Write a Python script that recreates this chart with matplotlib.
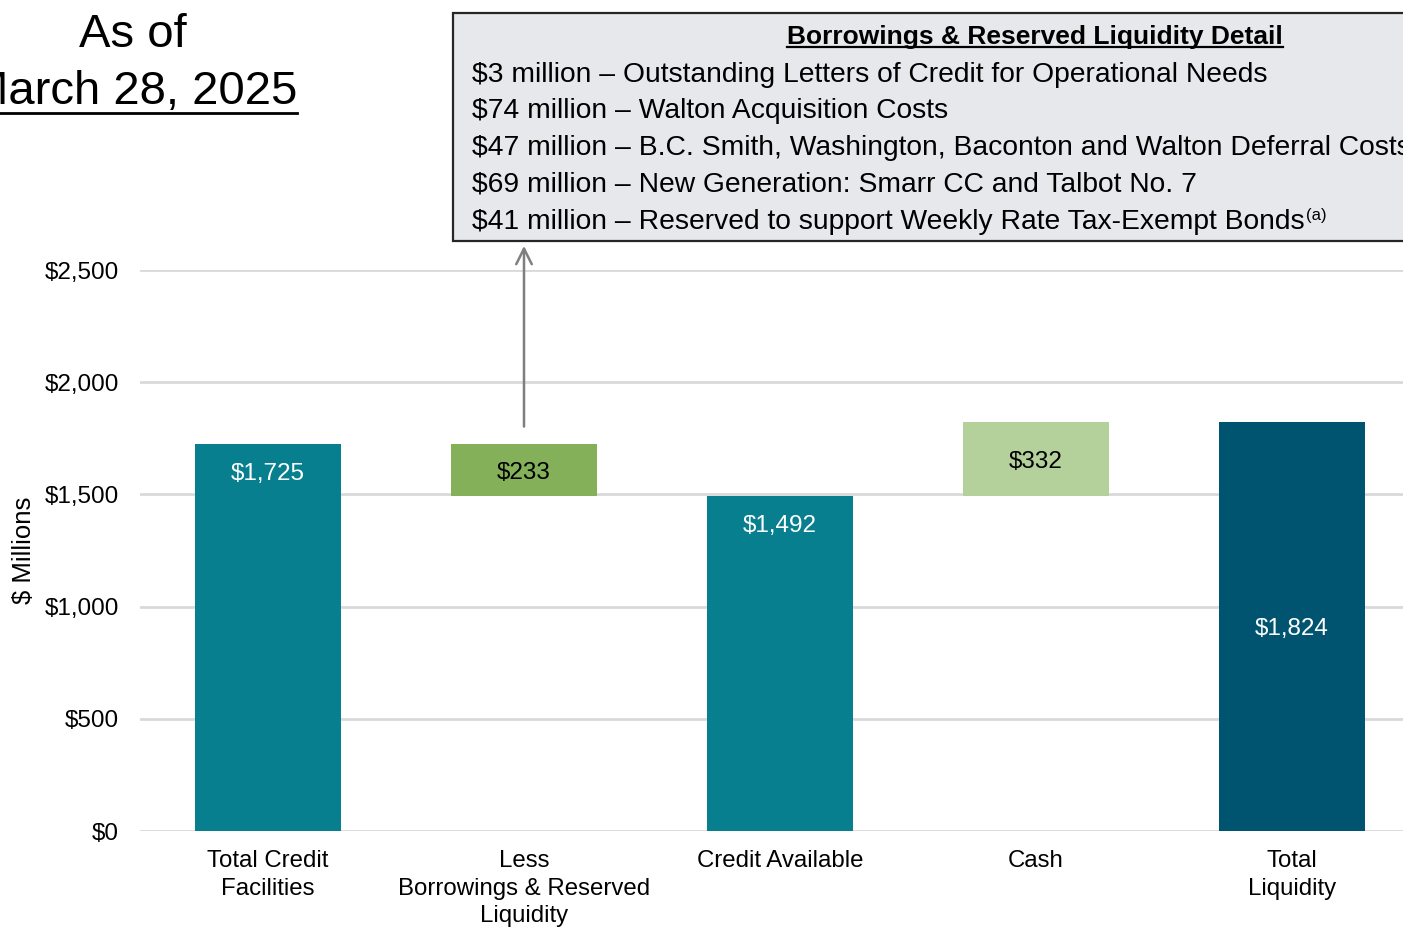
import matplotlib.pyplot as plt
from matplotlib.patches import Rectangle
from matplotlib.lines import Line2D

plt.rcParams['font.family'] = ['Liberation Sans', 'DejaVu Sans']

categories = ["Total Credit\nFacilities", "Less\nBorrowings & Reserved\nLiquidity",
              "Credit Available", "Cash", "Total\nLiquidity"]
values = [1725, 233, 1492, 332, 1824]
bottoms = [0, 1492, 0, 1492, 0]
colors = ["#077F8F", "#84B05A", "#077F8F", "#B5D19B", "#00546F"]
label_colors = ["white", "black", "white", "black", "white"]

y_ticks = [0, 500, 1000, 1500, 2000, 2500]

detail_amounts = [3, 74, 47, 69, 41]
detail_items = ["Outstanding Letters of Credit for Operational Needs",
                "Walton Acquisition Costs",
                "B.C. Smith, Washington, Baconton and Walton Deferral Costs",
                "New Generation: Smarr CC and Talbot No. 7",
                "Reserved to support Weekly Rate Tax-Exempt Bonds"]

W, H = 1403, 927
fig = plt.figure(figsize=(W / 100, H / 100), dpi=100)


def fx(px):
    return px / W


def fy(py):
    return 1 - py / H


ax = fig.add_axes([fx(140), fy(831), 1 - fx(140), fy(270) - fy(831)])
x = list(range(len(categories)))
ax.bar(x, values, bottom=bottoms, width=0.574, color=colors, zorder=3)

for i, (v, b) in enumerate(zip(values, bottoms)):
    if i in (0, 2):
        ly = b + v - 122
    else:
        ly = b + v / 2
    ax.text(i, ly - 13, f"${v:,}", ha="center", va="center", fontsize=17.5,
            color=label_colors[i], zorder=4)

ax.set_ylim(0, 2500)
ax.set_xlim(-0.5, (W - 268) / 256)
ax.set_yticks(y_ticks)
ax.set_yticklabels([f"${t:,}" for t in y_ticks], fontsize=17.5)
ax.set_xticks(x)
ax.set_xticklabels(categories, fontsize=17.3, linespacing=1.3)
ax.tick_params(axis="both", length=0)
ax.tick_params(axis="y", pad=15)
ax.tick_params(axis="x", pad=14)
ax.grid(axis="y", color="#D9D9D9", linewidth=2, zorder=0)
for s in ax.spines.values():
    s.set_visible(False)
ax.set_ylabel("$ Millions", fontsize=18.5)
ax.yaxis.set_label_coords((36 - 140) / (W - 140), 0.5)

# arrow from the reserved bar up to the detail box
ax.annotate("", xy=(1, 2620), xytext=(1, 1790),
            arrowprops=dict(arrowstyle="->", color="#7F7F7F", lw=1.8,
                            mutation_scale=28), annotation_clip=False)

# detail box
fig.patches.append(Rectangle((fx(453), fy(241)), 1.0, fy(13) - fy(241),
                             transform=fig.transFigure, facecolor="#E7E8EC",
                             edgecolor="#262626", linewidth=1.6, zorder=1))

renderer = fig.canvas.get_renderer()


def underline(t, offset, lw):
    bb = t.get_window_extent(renderer)
    fig.add_artist(Line2D([bb.x0 / W, bb.x1 / W],
                          [(bb.y0 - offset) / H, (bb.y0 - offset) / H],
                          transform=fig.transFigure, color="black", linewidth=lw))


hdr = fig.text(fx(1035), fy(37), "Borrowings & Reserved Liquidity Detail",
               ha="center", va="center", fontsize=19, fontweight="bold", zorder=2)
underline(hdr, -2, 1.6)

for k, (amt, item) in enumerate(zip(detail_amounts, detail_items)):
    t = fig.text(fx(472), fy(74.5 + 36.8 * k), f"${amt} million \u2013 {item}",
                 ha="left", va="center", fontsize=20.3, zorder=2)
    if k == len(detail_items) - 1:
        bb = t.get_window_extent(renderer)
        fig.text(bb.x1 / W + 0.001, fy(74.5 + 36.8 * k - 6), "(a)", ha="left",
                 va="center", fontsize=12, zorder=2)

# as-of date heading
fig.text(fx(133), fy(35), "As of", ha="center", va="center", fontsize=34)
dt = fig.text(fx(133), fy(92), "March 28, 2025", ha="center", va="center",
              fontsize=34)
underline(dt, -1, 2)

fig.savefig("out.png", dpi=100)
